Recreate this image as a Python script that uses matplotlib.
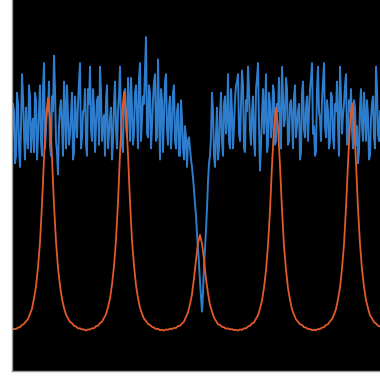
import numpy as np
import matplotlib
matplotlib.use("Agg")
import matplotlib.pyplot as plt

# transmission (blue), sampled on whole steps and on the half steps between them
transmission = [
    62, 70, 58, 72, 55, 80, 64, 71, 60, 74,
    66, 59, 73, 63, 77, 58, 83, 65, 70, 61,
    74, 85, 62, 53, 71, 66, 78, 60, 69, 64,
    75, 59, 68, 72, 83, 63, 70, 61, 76, 82,
    62, 71, 66, 74, 82, 62, 69, 73, 60, 68,
    57, 72, 65, 70, 82, 61, 75, 66, 79, 62,
    71, 64, 77, 60, 83, 68, 72, 90, 63, 75,
    66, 78, 62, 84, 57, 73, 69, 80, 61, 74,
    66, 77, 60, 72, 58, 68, 57, 63, 62, 60,
    55, 49, 42, 33, 24, 16, 28, 38, 51, 58,
    75, 58, 64, 57, 69, 62, 72, 64, 80, 60,
    70, 66, 77, 80, 62, 81, 60, 73, 82, 65,
    70, 62, 76, 83, 54, 69, 64, 80, 61, 72,
    66, 75, 62, 70, 64, 82, 66, 79, 61, 72,
    68, 74, 63, 70, 57, 75, 65, 71, 62, 76,
    83, 66, 59, 82, 68, 73, 83, 63, 70, 62,
    74, 60, 70, 66, 82, 64, 72, 80, 62, 70,
    65, 73, 61, 56, 71, 66, 75, 62, 69, 58,
    72, 63, 82, 64, 70,
]

transmission_mid = [
    72, 56, 75, 60, 66, 74, 57, 63, 77, 59,
    68, 75, 57, 70, 62, 76, 60, 71, 78, 58,
    70, 76, 59, 66, 73, 58, 71, 77, 61, 69,
    57, 74, 63, 78, 60, 70, 76, 58, 72, 65,
    76, 59, 73, 61, 75, 67, 58, 77, 64, 71,
    62, 78, 60, 74, 67, 59, 76, 63, 72, 79,
    61, 75, 68, 79, 62, 74, 81, 64, 77, 60,
    73, 80, 63, 70, 76, 59, 78, 65, 71, 60,
    75, 62, 70, 58, 73, 60, 66, 55, 63, 57,
    52, 45, 37, 29, 20, 21, 33, 44, 56, 63,
    70, 55, 71, 60, 75, 58, 74, 68, 62, 76,
    60, 73, 78, 64, 72, 77, 59, 70, 76, 61,
    74, 58, 79, 66, 61, 76, 70, 59, 75, 63,
    77, 61, 72, 79, 60, 74, 68, 76, 62, 73,
    60, 77, 66, 72, 59, 78, 63, 74, 70, 79,
    64, 58, 76, 70, 62, 78, 66, 73, 60, 75,
    63, 72, 78, 58, 74, 69, 77, 61, 73, 76,
    60, 71, 66, 59, 76, 62, 70, 73, 57, 68,
    74, 60, 76, 62,
]

# cavity signal (orange), whole steps
cavity = [
    11.1, 11.4, 11.3, 11.7, 11.8, 12.4, 12.7, 13.4, 14.0, 15.4,
    16.8, 19.6, 22.8, 28.0, 34.7, 44.9, 57.2, 68.1, 73.6, 67.9,
    57.4, 44.7, 34.9, 27.8, 23.0, 19.4, 17.0, 15.2, 14.2, 13.2,
    12.9, 12.2, 12.0, 11.5, 11.5, 11.2, 11.2, 10.9, 11.2, 11.2,
    11.5, 11.5, 12.1, 12.2, 12.9, 13.3, 14.3, 15.3, 17.2, 19.5,
    23.3, 28.2, 35.4, 45.5, 58.5, 69.1, 75.0, 69.3, 58.3, 45.7,
    35.2, 28.4, 23.1, 19.7, 17.0, 15.5, 14.1, 13.5, 12.7, 12.4,
    11.9, 11.7, 11.3, 11.4, 11.0, 11.1, 10.9, 11.2, 11.1, 11.4,
    11.3, 11.6, 11.6, 12.1, 12.2, 12.8, 13.3, 14.6, 15.8, 18.0,
    20.7, 25.0, 29.9, 34.5, 36.7, 34.3, 30.1, 24.8, 20.9, 17.8,
    16.0, 14.4, 13.5, 12.6, 12.4, 11.9, 11.8, 11.4, 11.5, 11.2,
    11.3, 11.0, 11.1, 10.9, 11.2, 11.1, 11.5, 11.5, 12.0, 12.2,
    12.8, 13.1, 14.1, 15.0, 16.8, 19.0, 22.5, 27.1, 33.9, 43.3,
    55.5, 65.5, 71.0, 65.7, 55.3, 43.5, 33.7, 27.3, 22.3, 19.2,
    16.6, 15.2, 13.9, 13.3, 12.6, 12.4, 11.8, 11.7, 11.3, 11.3,
    11.0, 11.1, 11.0, 11.3, 11.3, 11.7, 11.8, 12.4, 12.6, 13.4,
    14.0, 15.2, 16.7, 19.3, 22.5, 27.6, 34.1, 44.0, 56.0, 66.6,
    72.2, 66.4, 56.2, 43.8, 34.3, 27.4, 22.7, 19.1, 16.9, 15.0,
    14.2, 13.2, 12.8, 12.2, 12.0,
]

x = np.arange(len(transmission))

# merge whole and half steps in order
xb = np.empty(2 * len(transmission) - 1)
yb = np.empty_like(xb)
xb[0::2] = x
xb[1::2] = x[:-1] + 0.5
yb[0::2] = transmission
yb[1::2] = transmission_mid

fig = plt.figure(figsize=(3.8, 3.76), dpi=100, facecolor="white")
ax = fig.add_axes([12 / 380, 5 / 376, 1 - 12 / 380, 1 - 5 / 376])
ax.set_facecolor("black")

ax.plot(xb, yb, color="#2e7ccc", lw=1.4)
ax.plot(x, cavity, color="#e25a2a", lw=1.3)

ax.set_xlim(0, len(x) - 1)
ax.set_ylim(0, 100)
ax.set_xticks([])
ax.set_yticks([])
for side in ["top", "right"]:
    ax.spines[side].set_visible(False)
for side in ["left", "bottom"]:
    ax.spines[side].set_color("#999999")
    ax.spines[side].set_linewidth(1.0)

fig.savefig("out.png", dpi=100, facecolor="white")
